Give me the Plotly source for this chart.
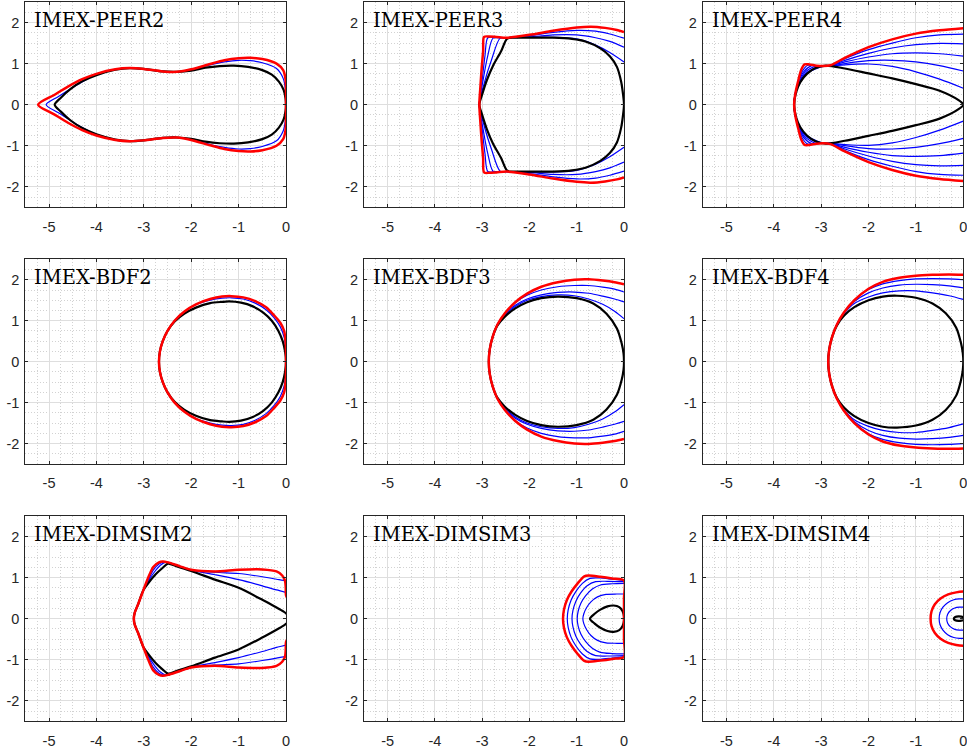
import plotly.graph_objects as go

# ---------------- data (upper halves, from leftmost point; mirrored for lower half) -------------
titles = ["IMEX-PEER2", "IMEX-PEER3", "IMEX-PEER4",
          "IMEX-BDF2", "IMEX-BDF3", "IMEX-BDF4",
          "IMEX-DIMSIM2", "IMEX-DIMSIM3", "IMEX-DIMSIM4"]

x_ticks = [-5, -4, -3, -2, -1, 0]
x_tick_labels = ["-5", "-4", "-3", "-2", "-1", "0"]
y_ticks = [-2, -1, 0, 1, 2]
y_tick_labels = ["-2", "-1", "0", "1", "2"]

# IMEX-PEER2
peer2_red_x = [-5.23, -4.9, -4.6, -4.3, -4.0, -3.6, -3.3, -3.0, -2.6, -2.3, -2.0, -1.6, -1.3, -1.0, -0.75, -0.5, -0.2, -0.06, -0.01, 0.0, 0.0]
peer2_red_y = [0.0, 0.23, 0.44, 0.62, 0.75, 0.86, 0.89, 0.87, 0.81, 0.80, 0.86, 0.99, 1.08, 1.13, 1.14, 1.11, 1.0, 0.84, 0.62, 0.35, 0.0]
peer2_blue_x = [-5.06, -4.8, -4.5, -4.2, -4.0, -3.6, -3.3, -3.0, -2.6, -2.3, -2.0, -1.6, -1.3, -1.0, -0.75, -0.5, -0.2, -0.06, -0.01, 0.0]
peer2_blue_y = [0.0, 0.2, 0.42, 0.62, 0.74, 0.86, 0.89, 0.87, 0.81, 0.80, 0.85, 0.97, 1.04, 1.08, 1.07, 1.02, 0.88, 0.64, 0.35, 0.0]
peer2_black_x = [-4.88, -4.75, -4.55, -4.3, -4.0, -3.6, -3.3, -3.0, -2.6, -2.3, -2.0, -1.7, -1.4, -1.1, -0.8, -0.5, -0.3, -0.15, -0.05, -0.01, 0.0]
peer2_black_y = [0.0, 0.17, 0.38, 0.57, 0.72, 0.85, 0.89, 0.87, 0.81, 0.80, 0.83, 0.90, 0.94, 0.95, 0.92, 0.84, 0.73, 0.56, 0.36, 0.15, 0.0]

# IMEX-PEER3
peer3_red_x = [-3.06, -3.04, -3.01, -2.98, -2.96, -2.85, -2.7, -2.48, -2.0, -1.5, -1.0, -0.7, -0.4, -0.15, 0.0]
peer3_red_y = [0.0, 0.4, 0.9, 1.3, 1.65, 1.66, 1.65, 1.63, 1.70, 1.80, 1.88, 1.90, 1.87, 1.82, 1.77]
peer3_blue1_x = [-3.06, -3.0, -2.94, -2.88, -2.7, -2.45, -2.0, -1.5, -1.0, -0.6, -0.3, 0.0]
peer3_blue1_y = [0.0, 0.6, 1.2, 1.63, 1.63, 1.63, 1.68, 1.76, 1.81, 1.79, 1.72, 1.62]
peer3_blue2_x = [-3.06, -2.98, -2.88, -2.77, -2.6, -2.45, -2.0, -1.5, -1.0, -0.6, -0.3, 0.0]
peer3_blue2_y = [0.0, 0.6, 1.2, 1.62, 1.63, 1.63, 1.65, 1.70, 1.70, 1.63, 1.54, 1.40]
peer3_blue3_x = [-3.06, -2.95, -2.8, -2.62, -2.45, -2.0, -1.5, -1.0, -0.6, -0.3, 0.0]
peer3_blue3_y = [0.0, 0.55, 1.1, 1.62, 1.63, 1.64, 1.64, 1.60, 1.45, 1.27, 1.04]
peer3_black_x = [-3.06, -3.0, -2.9, -2.77, -2.6, -2.47, -2.3, -2.0, -1.5, -1.1, -0.8, -0.5, -0.3, -0.15, -0.06, -0.02, 0.0]
peer3_black_y = [0.0, 0.25, 0.6, 0.95, 1.3, 1.61, 1.63, 1.63, 1.63, 1.60, 1.53, 1.37, 1.18, 0.92, 0.56, 0.25, 0.0]

# IMEX-PEER4
peer4_red_x = [-3.57, -3.54, -3.48, -3.42, -3.35, -3.25, -3.1, -2.95, -2.8, -2.5, -2.0, -1.5, -1.0, -0.5, 0.0]
peer4_red_y = [0.0, 0.3, 0.6, 0.85, 0.98, 0.98, 0.95, 0.94, 0.96, 1.14, 1.40, 1.59, 1.73, 1.81, 1.86]
peer4_blue1_x = [-3.57, -3.54, -3.47, -3.39, -3.28, -3.05, -2.8, -2.5, -2.0, -1.5, -1.0, -0.5, 0.0]
peer4_blue1_y = [0.0, 0.3, 0.6, 0.83, 0.96, 0.94, 0.96, 1.12, 1.34, 1.50, 1.63, 1.70, 1.72]
peer4_blue2_x = [-3.57, -3.54, -3.46, -3.37, -3.2, -3.0, -2.8, -2.5, -2.0, -1.5, -1.0, -0.5, 0.0]
peer4_blue2_y = [0.0, 0.3, 0.6, 0.8, 0.95, 0.94, 0.95, 1.08, 1.25, 1.38, 1.46, 1.49, 1.48]
peer4_blue3_x = [-3.57, -3.54, -3.45, -3.35, -3.12, -2.95, -2.8, -2.5, -2.0, -1.5, -1.0, -0.5, 0.0]
peer4_blue3_y = [0.0, 0.3, 0.58, 0.78, 0.94, 0.94, 0.95, 1.04, 1.16, 1.24, 1.26, 1.24, 1.18]
peer4_blue4_x = [-3.57, -3.54, -3.45, -3.33, -3.04, -2.9, -2.8, -2.5, -2.0, -1.5, -1.0, -0.5, 0.0]
peer4_blue4_y = [0.0, 0.3, 0.56, 0.76, 0.93, 0.94, 0.94, 1.0, 1.07, 1.08, 1.04, 0.95, 0.82]
peer4_blue5_x = [-3.57, -3.54, -3.44, -3.31, -2.95, -2.8, -2.5, -2.0, -1.5, -1.0, -0.5, 0.0]
peer4_blue5_y = [0.0, 0.3, 0.55, 0.75, 0.94, 0.94, 0.97, 0.99, 0.93, 0.80, 0.62, 0.40]
peer4_black_x = [-3.57, -3.53, -3.44, -3.3, -3.12, -2.9, -2.5, -2.0, -1.5, -1.0, -0.5, -0.1, 0.0]
peer4_black_y = [0.0, 0.3, 0.55, 0.75, 0.89, 0.95, 0.88, 0.76, 0.64, 0.50, 0.34, 0.11, 0.0]

# IMEX-BDF2
bdf2_red_x = [-2.68, -2.66, -2.6, -2.5, -2.35, -2.15, -1.9, -1.6, -1.35, -1.15, -0.9, -0.65, -0.42, -0.25, -0.12, -0.04, -0.01, 0.0, 0.0]
bdf2_red_y = [0.0, 0.25, 0.5, 0.75, 1.0, 1.22, 1.4, 1.53, 1.59, 1.60, 1.57, 1.48, 1.33, 1.13, 0.95, 0.75, 0.5, 0.25, 0.0]
bdf2_blue_x = [-2.68, -2.66, -2.6, -2.5, -2.35, -2.15, -1.9, -1.6, -1.35, -1.15, -0.9, -0.65, -0.42, -0.25, -0.12, -0.04, -0.01, 0.0]
bdf2_blue_y = [0.0, 0.25, 0.5, 0.75, 1.0, 1.22, 1.39, 1.5, 1.55, 1.56, 1.53, 1.43, 1.27, 1.07, 0.85, 0.6, 0.35, 0.0]
bdf2_black_x = [-2.68, -2.66, -2.6, -2.5, -2.35, -2.15, -1.9, -1.6, -1.35, -1.2, -0.95, -0.7, -0.48, -0.3, -0.16, -0.07, -0.02, 0.0]
bdf2_black_y = [0.0, 0.25, 0.5, 0.75, 0.98, 1.17, 1.32, 1.43, 1.46, 1.47, 1.44, 1.35, 1.2, 1.0, 0.75, 0.5, 0.25, 0.0]

# IMEX-BDF3
bdf3_x = [-2.86, -2.84, -2.78, -2.68, -2.52, -2.3, -2.05, -1.75, -1.4, -1.05, -0.75, -0.45, -0.2, 0.0]
bdf3_red_y = [0.0, 0.3, 0.6, 0.9, 1.18, 1.45, 1.66, 1.83, 1.94, 2.0, 2.01, 1.98, 1.94, 1.89]
bdf3_blue1_y = [0.0, 0.3, 0.6, 0.9, 1.18, 1.44, 1.62, 1.75, 1.83, 1.86, 1.86, 1.82, 1.77, 1.70]
bdf3_blue2_y = [0.0, 0.3, 0.6, 0.9, 1.17, 1.38, 1.53, 1.63, 1.69, 1.70, 1.67, 1.60, 1.53, 1.46]
bdf3_blue3_y = [0.0, 0.3, 0.6, 0.89, 1.14, 1.35, 1.5, 1.59, 1.63, 1.61, 1.53, 1.40, 1.23, 1.05]
bdf3_black_x = [-2.86, -2.84, -2.78, -2.68, -2.52, -2.3, -2.05, -1.75, -1.4, -1.0, -0.65, -0.37, -0.15, -0.05, -0.01, 0.0]
bdf3_black_y = [0.0, 0.3, 0.6, 0.88, 1.1, 1.3, 1.45, 1.55, 1.59, 1.55, 1.42, 1.17, 0.81, 0.45, 0.2, 0.0]

# IMEX-BDF4
bdf4_x = [-2.85, -2.83, -2.77, -2.67, -2.52, -2.3, -2.0, -1.7, -1.35, -1.0, -0.65, -0.3, 0.0]
bdf4_red_y = [0.0, 0.3, 0.6, 0.9, 1.2, 1.5, 1.78, 1.95, 2.05, 2.1, 2.12, 2.13, 2.12]
bdf4_blue1_y = [0.0, 0.3, 0.6, 0.9, 1.2, 1.5, 1.76, 1.9, 1.98, 2.02, 2.03, 2.02, 2.0]
bdf4_blue2_y = [0.0, 0.3, 0.6, 0.9, 1.19, 1.47, 1.68, 1.8, 1.87, 1.89, 1.88, 1.85, 1.8]
bdf4_blue3_y = [0.0, 0.3, 0.6, 0.9, 1.17, 1.42, 1.58, 1.68, 1.73, 1.73, 1.68, 1.61, 1.52]
bdf4_black_x = [-2.85, -2.83, -2.77, -2.67, -2.52, -2.3, -2.0, -1.7, -1.4, -1.0, -0.65, -0.37, -0.15, -0.05, -0.01, 0.0]
bdf4_black_y = [0.0, 0.3, 0.6, 0.88, 1.12, 1.33, 1.5, 1.59, 1.61, 1.56, 1.42, 1.18, 0.83, 0.46, 0.2, 0.0]

# IMEX-DIMSIM2
dim2_red_x = [-3.21, -3.19, -3.12, -3.01, -2.91, -2.8, -2.68, -2.6, -2.49, -2.25, -2.0, -1.5, -1.0, -0.5, -0.2, -0.08, -0.02, -0.005, 0.0, 0.05]
dim2_red_y = [0.0, 0.15, 0.35, 0.69, 0.99, 1.26, 1.37, 1.39, 1.37, 1.28, 1.19, 1.15, 1.19, 1.2, 1.15, 1.05, 0.92, 0.75, 0.57, 0.45]
dim2_blue1_x = [-3.21, -3.19, -3.12, -3.01, -2.9, -2.8, -2.68, -2.58, -2.49, -2.25, -2.0, -1.5, -1.0, -0.5, -0.2, 0.0, 0.05]
dim2_blue1_y = [0.0, 0.15, 0.35, 0.69, 0.95, 1.18, 1.33, 1.38, 1.37, 1.28, 1.19, 1.13, 1.1, 1.02, 0.96, 0.91, 0.85]
dim2_blue2_x = [-3.21, -3.19, -3.12, -3.01, -2.9, -2.78, -2.65, -2.55, -2.49, -2.25, -2.0, -1.5, -1.0, -0.5, -0.2, 0.0, 0.05]
dim2_blue2_y = [0.0, 0.15, 0.35, 0.69, 0.92, 1.13, 1.3, 1.37, 1.37, 1.28, 1.18, 1.07, 0.95, 0.8, 0.7, 0.64, 0.6]
dim2_black_x = [-3.21, -3.19, -3.12, -3.01, -2.9, -2.75, -2.6, -2.49, -2.3, -2.0, -1.5, -1.0, -0.5, -0.2, -0.05, 0.0, 0.05]
dim2_black_y = [0.0, 0.15, 0.35, 0.69, 0.87, 1.08, 1.24, 1.34, 1.27, 1.16, 0.95, 0.75, 0.46, 0.27, 0.17, 0.13, 0.08]

# IMEX-DIMSIM3
dim3_red_x = [-1.29, -1.27, -1.21, -1.11, -0.98, -0.84, -0.75, -0.5, -0.25, 0.0, 0.0, 0.0]
dim3_red_y = [0.0, 0.22, 0.45, 0.66, 0.86, 1.03, 1.05, 1.02, 0.98, 0.93, 0.5, 0.0]
dim3_blue1_x = [-1.2, -1.18, -1.12, -1.02, -0.88, -0.72, -0.5, -0.25, 0.0]
dim3_blue1_y = [0.0, 0.22, 0.45, 0.66, 0.86, 0.98, 0.99, 0.96, 0.93]
dim3_blue2_x = [-1.1, -1.08, -1.02, -0.92, -0.78, -0.6, -0.35, 0.0]
dim3_blue2_y = [0.0, 0.2, 0.42, 0.62, 0.8, 0.9, 0.91, 0.9]
dim3_blue3_x = [-0.99, -0.97, -0.91, -0.81, -0.67, -0.5, -0.25, 0.0]
dim3_blue3_y = [0.0, 0.18, 0.38, 0.56, 0.72, 0.82, 0.85, 0.86]
dim3_blue4_x = [-0.87, -0.85, -0.79, -0.7, -0.56, -0.38, -0.15, 0.0]
dim3_blue4_y = [0.0, 0.12, 0.27, 0.41, 0.53, 0.59, 0.6, 0.6]
dim3_black_x = [-0.72, -0.62, -0.5, -0.35, -0.22, -0.1, -0.03, 0.0, 0.0]
dim3_black_y = [0.0, 0.12, 0.22, 0.3, 0.32, 0.28, 0.18, 0.05, 0.0]

# IMEX-DIMSIM4
dim4_red_x = [-0.69, -0.67, -0.6, -0.48, -0.32, -0.15, 0.0, 0.02]
dim4_red_y = [0.0, 0.18, 0.35, 0.49, 0.59, 0.64, 0.66, 0.66]
dim4_blue1_x = [-0.51, -0.49, -0.43, -0.33, -0.2, -0.08, 0.0]
dim4_blue1_y = [0.0, 0.15, 0.28, 0.39, 0.46, 0.48, 0.48]
dim4_blue2_x = [-0.35, -0.33, -0.27, -0.18, -0.08, 0.0]
dim4_blue2_y = [0.0, 0.11, 0.2, 0.26, 0.28, 0.28]
dim4_black_x = [-0.2, -0.17, -0.1, -0.04, 0.0]
dim4_black_y = [0.0, 0.04, 0.055, 0.05, 0.04]

panels = [
    ((peer2_black_x, peer2_black_y), [(peer2_blue_x, peer2_blue_y)], (peer2_red_x, peer2_red_y)),
    ((peer3_black_x, peer3_black_y), [(peer3_blue1_x, peer3_blue1_y), (peer3_blue2_x, peer3_blue2_y), (peer3_blue3_x, peer3_blue3_y)], (peer3_red_x, peer3_red_y)),
    ((peer4_black_x, peer4_black_y), [(peer4_blue1_x, peer4_blue1_y), (peer4_blue2_x, peer4_blue2_y), (peer4_blue3_x, peer4_blue3_y), (peer4_blue4_x, peer4_blue4_y), (peer4_blue5_x, peer4_blue5_y)], (peer4_red_x, peer4_red_y)),
    ((bdf2_black_x, bdf2_black_y), [(bdf2_blue_x, bdf2_blue_y)], (bdf2_red_x, bdf2_red_y)),
    ((bdf3_black_x, bdf3_black_y), [(bdf3_x, bdf3_blue1_y), (bdf3_x, bdf3_blue2_y), (bdf3_x, bdf3_blue3_y)], (bdf3_x, bdf3_red_y)),
    ((bdf4_black_x, bdf4_black_y), [(bdf4_x, bdf4_blue1_y), (bdf4_x, bdf4_blue2_y), (bdf4_x, bdf4_blue3_y)], (bdf4_x, bdf4_red_y)),
    ((dim2_black_x, dim2_black_y), [(dim2_blue1_x, dim2_blue1_y), (dim2_blue2_x, dim2_blue2_y)], (dim2_red_x, dim2_red_y)),
    ((dim3_black_x, dim3_black_y), [(dim3_blue1_x, dim3_blue1_y), (dim3_blue2_x, dim3_blue2_y), (dim3_blue3_x, dim3_blue3_y), (dim3_blue4_x, dim3_blue4_y)], (dim3_red_x, dim3_red_y)),
    ((dim4_black_x, dim4_black_y), [(dim4_blue1_x, dim4_blue1_y), (dim4_blue2_x, dim4_blue2_y)], (dim4_red_x, dim4_red_y)),
]


def mirror(xs, ys):
    X = list(xs[::-1]) + list(xs[1:])
    Y = list(ys[::-1]) + [-v for v in ys[1:]]
    return X, Y


# ---------------- layout geometry (pixels) ----------------
W, H = 967, 749
col_px = [(25.3, 286.0), (364.0, 624.0), (702.7, 963.3)]
row_px = [(2.0, 207.3), (259.3, 464.0), (516.0, 721.3)]

fig = go.Figure()
axis_color = "#262626"
font_sans = "Liberation Sans, Arial, Helvetica, sans-serif"

for i in range(9):
    r, c = divmod(i, 3)
    n = i + 1
    xa = "x" if n == 1 else f"x{n}"
    ya = "y" if n == 1 else f"y{n}"
    black, blues, red = panels[i]
    for bx, by in blues:
        X, Y = mirror(bx, by)
        fig.add_trace(go.Scatter(x=X, y=Y, mode="lines", xaxis=xa, yaxis=ya,
                                 line=dict(color="#0000ff", width=1.2, shape="spline", smoothing=0.8),
                                 hoverinfo="skip"))
    X, Y = mirror(*black)
    fig.add_trace(go.Scatter(x=X, y=Y, mode="lines", xaxis=xa, yaxis=ya,
                             line=dict(color="#000000", width=2.2, shape="spline", smoothing=0.8),
                             hoverinfo="skip"))
    X, Y = mirror(*red)
    fig.add_trace(go.Scatter(x=X, y=Y, mode="lines", xaxis=xa, yaxis=ya,
                             line=dict(color="#ff0000", width=2.5, shape="spline", smoothing=0.8),
                             hoverinfo="skip"))

    x0, x1 = col_px[c]
    y0, y1 = row_px[r]
    common = dict(
        showline=True, linecolor=axis_color, linewidth=1, mirror="ticks",
        ticks="inside", ticklen=3, tickcolor=axis_color, tickwidth=1,
        showgrid=True, gridcolor="#dedede", gridwidth=1,
        zeroline=False, fixedrange=True, automargin=False,
        ticklabeloverflow="allow",
        tickfont=dict(family=font_sans, size=14.5, color=axis_color),
        minor=dict(dtick=0.25, showgrid=True, gridcolor="#d2d2d2", gridwidth=1,
                   griddash="1px,2px", ticks=""),
    )
    fig.layout[("xaxis" if n == 1 else f"xaxis{n}")] = dict(
        common, domain=[x0 / W, x1 / W], range=[-5.5, 0], anchor=ya,
        tickmode="array", tickvals=x_ticks, ticktext=x_tick_labels,
        ticklabelstandoff=6,
    )
    fig.layout[("yaxis" if n == 1 else f"yaxis{n}")] = dict(
        common, domain=[1 - y1 / H, 1 - y0 / H], range=[-2.5, 2.5], anchor=xa,
        tickmode="array", tickvals=y_ticks, ticktext=y_tick_labels,
        ticklabelstandoff=2,
    )
    fig.add_annotation(
        text=titles[i], xref=f"{xa} domain", yref=f"{ya} domain",
        x=0, y=1, xanchor="left", yanchor="middle", xshift=7, yshift=-18,
        showarrow=False,
        font=dict(family="DejaVu Serif, Liberation Serif, serif", size=19.5, color="#000000"),
    )

fig.update_layout(
    width=W, height=H, margin=dict(l=0, r=0, t=0, b=0, autoexpand=False),
    paper_bgcolor="white", plot_bgcolor="white", showlegend=False,
)

fig.write_html(
    "out.html",
    config={"displayModeBar": False, "staticPlot": True},
    post_script="document.body.style.margin='0';document.body.style.overflow='hidden';",
)
